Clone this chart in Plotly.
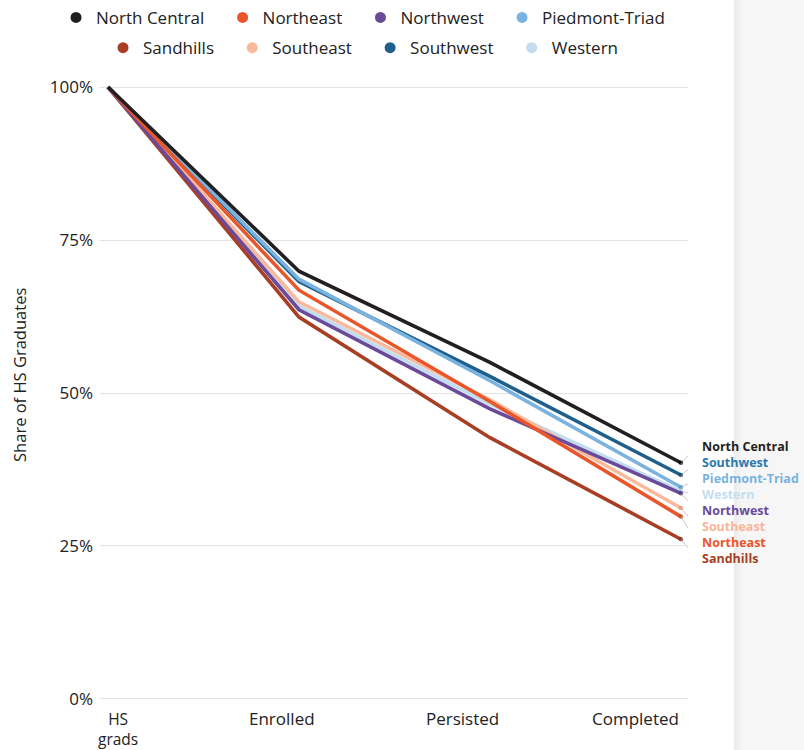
import plotly.graph_objects as go

# Stages of the pipeline (x axis)
stages = ["HS grads", "Enrolled", "Persisted", "Completed"]
stage_labels = ["HS<br>grads", "Enrolled", "Persisted", "Completed"]
# horizontal placement of the stage captions (fraction of plot width)
stage_label_pos = [0.031, 0.310, 0.616, 0.910]

# Regions and their colours
regions = ["North Central", "Northeast", "Northwest", "Piedmont-Triad",
           "Sandhills", "Southeast", "Southwest", "Western"]
line_colors = ["#231f20", "#e8562a", "#6b4a9a", "#7ab3e0",
               "#a83f24", "#fbb89a", "#1f5f8b", "#c2dcf0"]
label_colors = ["#231f20", "#e8562a", "#6b4a9a", "#7ab3e0",
                "#a83f24", "#fbb496", "#2b78b0", "#c5ddf0"]
end_dot_colors = ["#000000", "#b8401c", "#4c3270", "#5a8fbb",
                  "#7a2c18", "#e0906e", "#153f5e", "#9ebfd9"]

# Share of HS graduates (%) at each stage
north_central = [100, 69.9, 55.0, 38.6]
northeast = [100, 66.8, 48.6, 29.8]
northwest = [100, 63.6, 47.4, 33.6]
piedmont_triad = [100, 68.6, 52.0, 34.6]
sandhills = [100, 62.4, 42.7, 26.1]
southeast = [100, 64.9, 48.9, 31.2]
southwest = [100, 68.2, 52.7, 36.6]
western = [100, 64.2, 48.2, 33.9]

series = [north_central, northeast, northwest, piedmont_triad,
          sandhills, southeast, southwest, western]

y_ticks = [0, 25, 50, 75, 100]
y_tick_text = ["0%", "25%", "50%", "75%", "100%"]

FONT = "Open Sans"
TEXT = "#222222"

fig = go.Figure()

# Lines, drawn so that North Central ends up on top
for i in reversed(range(len(regions))):
    vals = series[i]
    fig.add_trace(go.Scatter(
        x=stages, y=vals, mode="lines+markers", name=regions[i],
        line=dict(color=line_colors[i], width=3.6),
        marker=dict(size=[0, 0, 0, 4.5], color=end_dot_colors[i], line=dict(width=0)),
        showlegend=False, hoverinfo="skip", cliponaxis=False,
    ))

# Legend entries (dots), split over two rows
for i, r in enumerate(regions):
    fig.add_trace(go.Scatter(
        x=[None], y=[None], mode="markers", name=r + "\u00a0\u00a0\u00a0",
        marker=dict(size=11, color=line_colors[i]),
        legend="legend" if i < 4 else "legend2",
    ))

annotations = []
shapes = []

# End-of-line labels, stacked in order of the final value
order = sorted(range(len(regions)), key=lambda k: -series[k][-1])
label_top = 41.2
label_step = 2.61
for rank, k in enumerate(order):
    ly = label_top - rank * label_step
    annotations.append(dict(
        x=1.02, xref="paper", y=ly, yref="y", xanchor="left", yanchor="middle",
        text=f"<b>{regions[k]}</b>", showarrow=False,
        font=dict(family=FONT, size=12.5, color=label_colors[k]),
    ))
    shapes.append(dict(
        type="line", xref="x", yref="y", x0=3, y0=series[k][-1], x1=3.085, y1=ly,
        line=dict(color="#c8c8c8", width=1), layer="below",
    ))

# Stage captions under the plot
for pos, lab in zip(stage_label_pos, stage_labels):
    two_line = "<br>" in lab
    annotations.append(dict(
        x=pos, xref="paper", y=0, yref="paper", xanchor="center", yanchor="top",
        yshift=-5 if two_line else -4, text=lab, showarrow=False, align="center",
        borderpad=0,
        font=dict(family=FONT, size=15.5 if two_line else 17, color=TEXT),
    ))

# Axis title
annotations.append(dict(
    x=-0.138, xref="paper", y=0.529, yref="paper", textangle=-90,
    xanchor="center", yanchor="middle",
    text="Share of HS Graduates", showarrow=False,
    font=dict(family=FONT, size=16.5, color=TEXT),
))

# Panel edge on the right
shapes += [
    dict(type="rect", xref="paper", yref="paper", x0=1.078, x1=1.25, y0=-0.2, y1=1.3,
         fillcolor="#f6f6f6", line=dict(width=0), layer="below"),
    dict(type="rect", xref="paper", yref="paper", x0=1.078, x1=1.083, y0=-0.2, y1=1.3,
         fillcolor="#ececec", line=dict(width=0), layer="below"),
    dict(type="rect", xref="paper", yref="paper", x0=1.083, x1=1.09, y0=-0.2, y1=1.3,
         fillcolor="#f1f1f1", line=dict(width=0), layer="below"),
]

legend_style = dict(orientation="h", xanchor="left", yanchor="middle",
                    font=dict(family=FONT, size=17, color=TEXT),
                    bgcolor="rgba(0,0,0,0)", itemwidth=30)

fig.update_layout(
    width=804, height=750,
    margin=dict(l=100, r=116, t=84, b=48, autoexpand=False),
    paper_bgcolor="white", plot_bgcolor="white",
    font=dict(family=FONT, size=17, color=TEXT),
    annotations=annotations, shapes=shapes,
    legend=dict(x=-0.0748, y=1.107, **legend_style),
    legend2=dict(x=0.0051, y=1.058, **legend_style),
)

fig.update_xaxes(
    type="category", categoryarray=stages, range=[-0.042, 3.037],
    showticklabels=False, automargin=False,
    showgrid=False, zeroline=False, showline=False, ticks="",
)
fig.update_yaxes(
    range=[-0.5, 100.5], tickvals=y_ticks, ticktext=y_tick_text, automargin=False,
    showgrid=True, gridcolor="#e3e3e3", gridwidth=1,
    zeroline=False, showline=False, ticks="", ticklabelstandoff=6,
    tickfont=dict(family=FONT, size=17, color=TEXT),
)

fig.write_html("out.html")
